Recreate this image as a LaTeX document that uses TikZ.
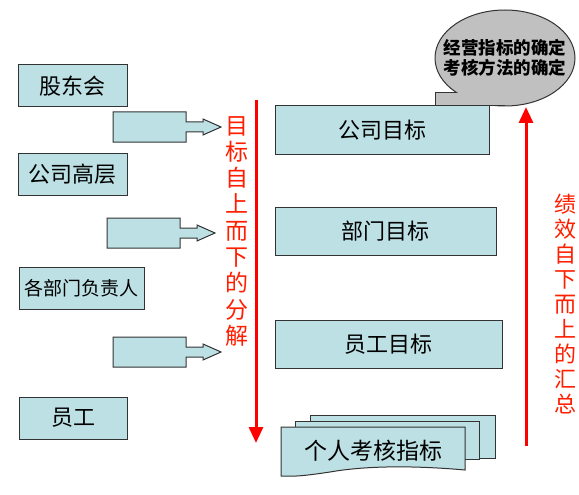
\documentclass[tikz,border=0pt]{standalone}
\usepackage{fontspec}
\setmainfont{Noto Sans CJK SC}
\usetikzlibrary{arrows.meta}
\definecolor{boxfill}{RGB}{188,224,228}
\definecolor{bubblegray}{RGB}{192,192,192}
\definecolor{labelred}{RGB}{255,30,0}
\begin{document}
\begin{tikzpicture}[x=1pt,y=-1pt,
  rolebox/.style={draw=black!80,fill=boxfill,line width=1pt,minimum height=42,inner sep=0pt,
    font=\fontsize{22}{26}\selectfont},
  goalbox/.style={draw=black!80,fill=boxfill,line width=1pt,minimum height=48,inner sep=0pt,
    font=\fontsize{22}{26}\selectfont},
  docsheet/.style={draw=black!80,fill=boxfill,line width=1pt},
  flowarrow/.style={red,line width=3pt,-{Triangle[width=14pt,length=16pt]}},
  flowtext/.style={text=labelred,align=center,inner sep=0pt,anchor=north,
    font=\fontsize{23}{26.3}\selectfont}]
  \useasboundingbox (0,0) rectangle (579,495);
  % left column: who sets the targets
  \node[rolebox,minimum width=109] (gudong) at (72.5,86) {股东会};
  \node[rolebox,minimum width=109] (gaoceng) at (72.5,174) {公司高层};
  \node[rolebox,minimum width=125,font=\fontsize{19}{23}\selectfont] (fuzeren) at (81.5,288) {各部门负责人};
  \node[rolebox,minimum width=108] (yuangong) at (73,418) {员工};
  % block arrows towards the target column
  \foreach \x/\y in {113/112,107/218,113/337}{
    \filldraw[docsheet] (\x,\y) -- (\x+73,\y) -- (\x+73,\y+10) -- (\x+90,\y+10)
      -- (\x+90,\y+7) -- (\x+108,\y+15) -- (\x+90,\y+23) -- (\x+90,\y+20)
      -- (\x+73,\y+20) -- (\x+73,\y+30) -- (\x,\y+30) -- cycle;
  }
  % top-down decomposition
  \coordinate (downstart) at (256,100);
  \coordinate (downend) at (256,443);
  \draw[flowarrow] (downstart) -- (downend);
  \node[flowtext] (downtext) at (237,116) {目\\标\\自\\上\\而\\下\\的\\分\\解};
  % target column
  \node[goalbox,minimum width=214] (gongsi) at (382,130) {公司目标};
  \node[goalbox,minimum width=221] (bumen) at (385.5,231) {部门目标};
  \node[goalbox,minimum width=227] (yuangongmb) at (388.5,344) {员工目标};
  % stacked sheets: personal indicators
  \filldraw[docsheet] (310,415) rectangle (495,458);
  \filldraw[docsheet] (295,421) rectangle (479,459);
  \filldraw[docsheet] (281,427) -- (465,427) -- (465,470)
    .. controls (420,466) and (370,465) .. (330,472)
    .. controls (310,475) and (295,477) .. (281,476) -- cycle;
  \node[font=\fontsize{23}{26}\selectfont] (geren) at (373,451) {个人考核指标};
  % bottom-up summary
  \coordinate (upstart) at (526,446);
  \coordinate (upend) at (526,107);
  \draw[flowarrow] (upstart) -- (upend);
  \node[flowtext,font=\fontsize{22}{25}\selectfont] (uptext) at (565,194) {绩\\效\\自\\下\\而\\上\\的\\汇\\总};
  % callout bubble
  \filldraw[draw=black!80,fill=bubblegray,line width=1pt] (505,58) ellipse [x radius=70,y radius=48];
  \fill[bubblegray] (435,93) rectangle (505,106);
  \draw[black!80,line width=1pt] (457,93) -- (435,93) -- (435,106) -- (505,106);
  \node[align=center,inner sep=0pt,font=\bfseries\fontsize{17.5}{20}\selectfont] (bubble) at (505,58)
    {经营指标的确定\\考核方法的确定};
\end{tikzpicture}
\end{document}
